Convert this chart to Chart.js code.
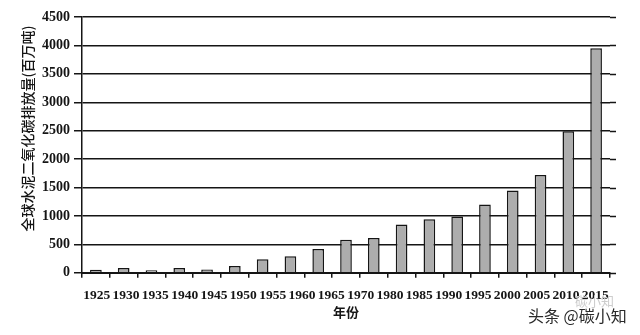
<!DOCTYPE html>
<html>
<head>
<meta charset="utf-8">
<script src="https://cdn.jsdelivr.net/npm/chart.js@4.4.1/dist/chart.umd.min.js"></script>
<style>
  html, body { margin: 0; padding: 0; background: #fff; }
  canvas { display: block; }
</style>
</head>
<body>
<canvas id="chart" width="640" height="335"></canvas>
<script>
// bar categories (one bar every 5 years)
const years = ['1925', '1930', '1935', '1940', '1945', '1950', '1955', '1960', '1965', '1970',
  '1975', '1980', '1985', '1990', '1995', '2000', '2005', '2010', '2015'];
// global cement CO2 emissions, million tonnes
const emissions = [52, 86, 45, 86, 58, 120, 240, 290, 420, 580,
  610, 850, 940, 990, 1200, 1450, 1720, 2490, 3950];
// tick labels as printed under the axis (the source skips 1975)
const yearLabels = ['1925', '1930', '1935', '1940', '1945', '1950', '1955', '1960', '1965',
  '1970', '1980', '1985', '1990', '1995', '2000', '2005', '2010', '2015'];
const yMax = 4500;
const yStep = 500;
const yTitle = '全球水泥二氧化碳排放量(百万吨)';
const xTitle = '年份';
const watermark = '头条 @碳小知';
const watermarkFaint = '碳小知';

const INK = '#151515';
const SERIF = "'Liberation Serif', 'Times New Roman', serif";
const CJK = "'Noto Sans CJK SC', sans-serif";

// axis titles, short grid extensions past the right edge, watermark
const extras = {
  id: 'extras',
  beforeDatasetsDraw(chart) {
    const { ctx, chartArea, scales } = chart;
    ctx.save();
    ctx.strokeStyle = INK;
    ctx.lineWidth = 1.5;
    scales.y.ticks.forEach(t => {
      const y = Math.round(scales.y.getPixelForValue(t.value)) + 0.5;
      ctx.beginPath();
      ctx.moveTo(chartArea.right, y);
      ctx.lineTo(chartArea.right + 6, y);
      ctx.stroke();
    });
    ctx.restore();
  },
  afterDraw(chart) {
    const { ctx, chartArea } = chart;
    ctx.save();
    ctx.translate(27.5, 128.5);
    ctx.rotate(-Math.PI / 2);
    ctx.fillStyle = INK;
    ctx.font = '500 14px ' + CJK;
    ctx.textAlign = 'center';
    ctx.textBaseline = 'middle';
    ctx.fillText(yTitle, 0, 0);
    ctx.restore();

    ctx.save();
    ctx.fillStyle = INK;
    ctx.font = 'bold 13px ' + CJK;
    ctx.textAlign = 'center';
    ctx.textBaseline = 'middle';
    ctx.fillText(xTitle, (chartArea.left + chartArea.right) / 2, 312);
    ctx.restore();

    ctx.save();
    ctx.font = '13px ' + CJK;
    ctx.fillStyle = '#cdcdcd';
    ctx.textAlign = 'left';
    ctx.textBaseline = 'middle';
    ctx.fillText(watermarkFaint, 575, 301);
    ctx.font = '16px ' + CJK;
    ctx.fillStyle = '#2a2a2a';
    ctx.fillText(watermark, 528, 316);
    ctx.restore();
  }
};

new Chart(document.getElementById('chart'), {
  type: 'bar',
  data: {
    labels: years,
    datasets: [{
      data: emissions,
      backgroundColor: '#adadad',
      borderColor: INK,
      borderWidth: 1.5,
      barPercentage: 0.42,
      categoryPercentage: 1,
      xAxisID: 'x',
      yAxisID: 'y'
    }]
  },
  options: {
    responsive: false,
    animation: false,
    layout: { padding: { left: 38, right: 30, top: 17, bottom: 29 } },
    plugins: {
      legend: { display: false },
      tooltip: { enabled: false }
    },
    scales: {
      x: {
        weight: 0,
        ticks: { display: false },
        grid: { drawOnChartArea: false, drawTicks: true, tickLength: 5, color: INK, lineWidth: 1.5 },
        border: { display: true, color: INK, width: 2 }
      },
      x2: {
        type: 'category',
        labels: yearLabels,
        position: 'bottom',
        weight: 1,
        offset: true,
        grid: { display: false },
        border: { display: false },
        ticks: {
          autoSkip: false,
          maxRotation: 0,
          padding: 2,
          color: INK,
          font: { family: SERIF, size: 13.5, weight: 'bold' }
        }
      },
      y: {
        min: 0,
        max: yMax,
        ticks: {
          stepSize: yStep,
          padding: 4,
          color: INK,
          font: { family: SERIF, size: 14, weight: 'bold' },
          callback: v => String(v)
        },
        grid: { color: INK, lineWidth: 1.5, tickLength: 8, drawTicks: true },
        border: { display: true, color: INK, width: 1.5 }
      }
    }
  },
  plugins: [extras]
});
</script>
</body>
</html>
